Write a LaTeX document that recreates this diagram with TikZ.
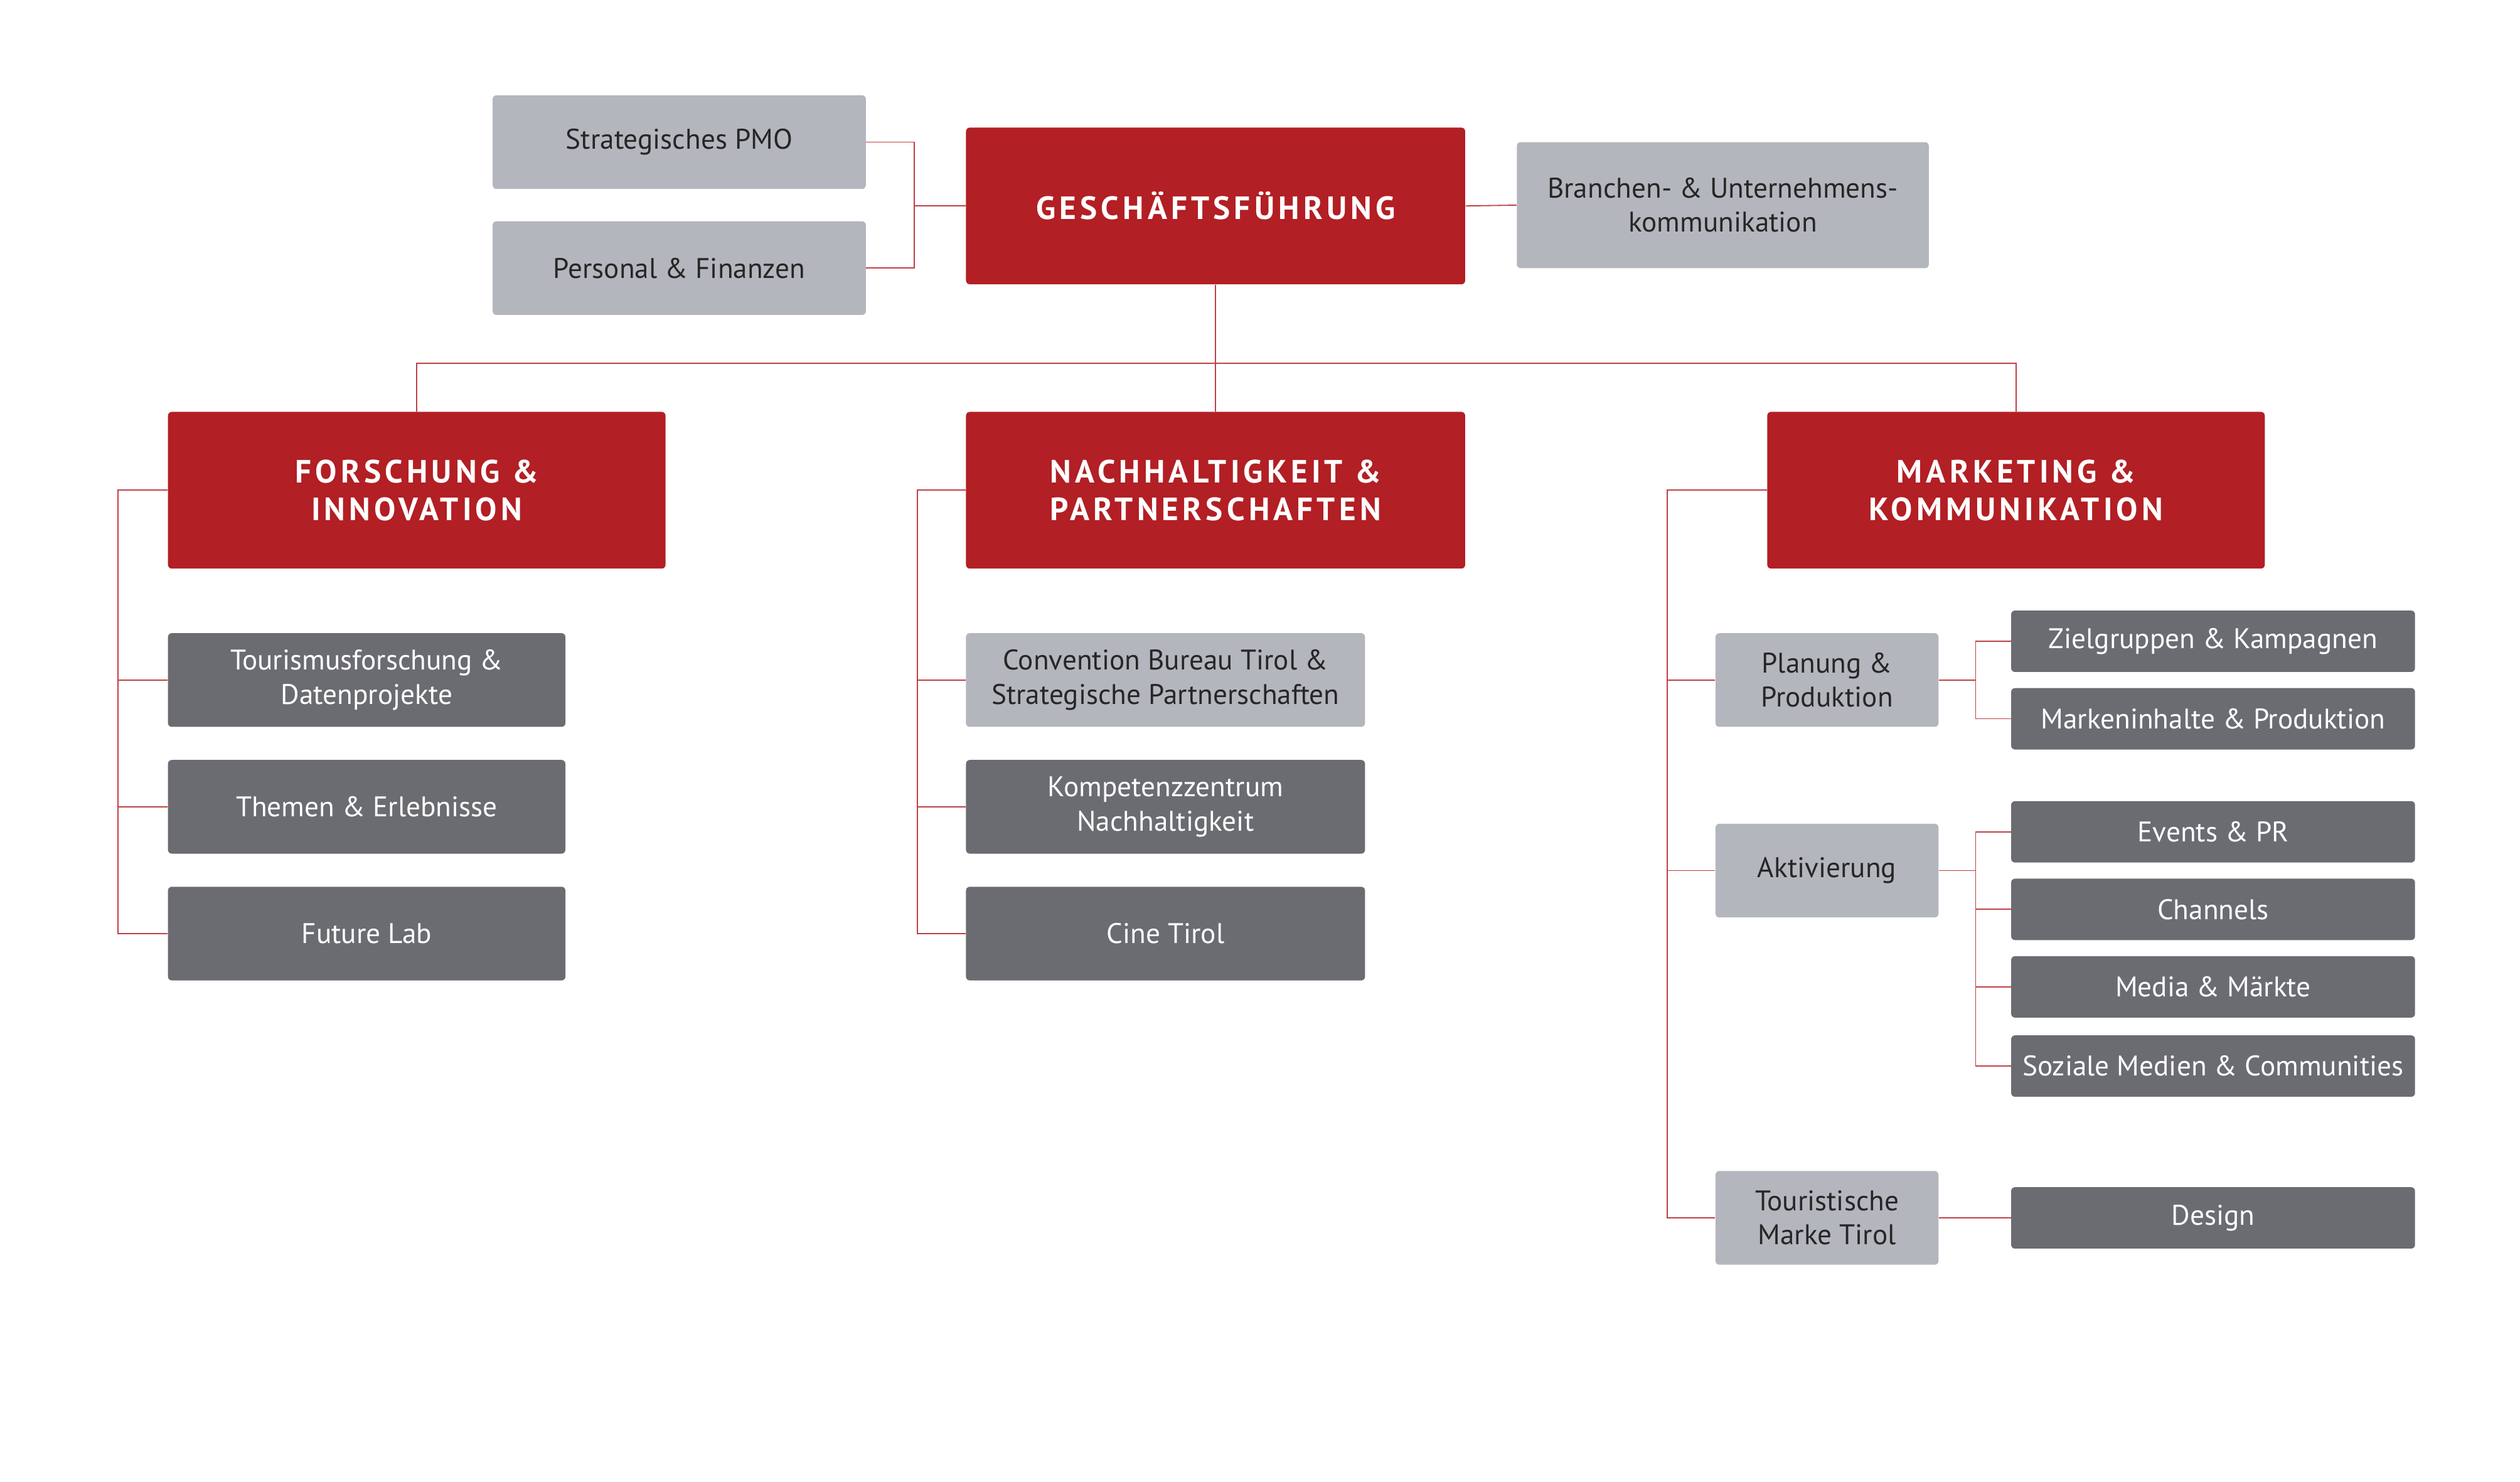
\documentclass[tikz,border=0pt]{standalone}
\usepackage{fontspec}
\setmainfont{PT Sans}
\definecolor{rd}{HTML}{B21F24}
\definecolor{lg}{HTML}{B4B6BD}
\definecolor{dg}{HTML}{6B6C71}
\begin{document}
\begin{tikzpicture}[x=0.03cm,y=-0.03cm,
 box/.style={rounded corners=2pt,inner sep=0pt,font=\fontsize{15}{18}\selectfont,align=center},
 light/.style={box,fill=lg,text=black!85},
 dark/.style={box,fill=dg,text=white},
 head/.style={box,fill=rd,text=white,font=\fontsize{17}{20}\selectfont\bfseries\addfontfeature{LetterSpace=12}},
 ln/.style={draw=rd!85,line width=0.6pt}]
\useasboundingbox (0,0) rectangle (1560,917.5);
\newcommand\bx[6]{\node[#1,minimum width=#4*0.03cm-#2*0.03cm,minimum height=#6*0.03cm-#5*0.03cm] (#3) at ({(#2+#4)/2},{(#5+#6)/2}) {};}
% nodes with text
\node[light,minimum width=231*0.03cm,minimum height=58*0.03cm] (pmo) at (420.5,88) {Strategisches PMO};
\node[light,minimum width=231*0.03cm,minimum height=58*0.03cm] (pf) at (420.5,166) {Personal \& Finanzen};
\node[head,minimum width=309*0.03cm,minimum height=97*0.03cm] (gf) at (752.5,127.5) {GESCHÄFTSFÜHRUNG};
\node[light,minimum width=255*0.03cm,minimum height=78*0.03cm] (bu) at (1066.5,127) {Branchen- \& Unternehmens-\\kommunikation};
\node[head,minimum width=308*0.03cm,minimum height=97*0.03cm] (fi) at (258,303.5) {FORSCHUNG \&\\INNOVATION};
\node[head,minimum width=309*0.03cm,minimum height=97*0.03cm] (np) at (752.5,303.5) {NACHHALTIGKEIT \&\\PARTNERSCHAFTEN};
\node[head,minimum width=308*0.03cm,minimum height=97*0.03cm] (mk) at (1248,303.5) {MARKETING \&\\KOMMUNIKATION};
\foreach \n/\t/\y in {f1/{Tourismusforschung \&\\Datenprojekte}/421, f2/{Themen \& Erlebnisse}/499.5, f3/{Future Lab}/578}
 \node[dark,minimum width=246*0.03cm,minimum height=58*0.03cm] (\n) at (227,\y) {\t};
\node[light,minimum width=247*0.03cm,minimum height=58*0.03cm] (n1) at (721.5,421) {Convention Bureau Tirol \&\\Strategische Partnerschaften};
\node[dark,minimum width=247*0.03cm,minimum height=58*0.03cm] (n2) at (721.5,499.5) {Kompetenzzentrum\\Nachhaltigkeit};
\node[dark,minimum width=247*0.03cm,minimum height=58*0.03cm] (n3) at (721.5,578) {Cine Tirol};
\node[light,minimum width=138*0.03cm,minimum height=58*0.03cm] (m1) at (1131,421) {Planung \&\\Produktion};
\node[light,minimum width=138*0.03cm,minimum height=58*0.03cm] (m2) at (1131,539) {Aktivierung};
\node[light,minimum width=138*0.03cm,minimum height=58*0.03cm] (m3) at (1131,754) {Touristische\\Marke Tirol};
\foreach \n/\t/\y in {r1/{Zielgruppen \& Kampagnen}/397, r2/{Markeninhalte \& Produktion}/445, r3/{Events \& PR}/515, r4/{Channels}/563, r5/{Media \& Märkte}/611, r6/{Soziale Medien \& Communities}/660, r7/{Design}/754}
 \node[dark,minimum width=250*0.03cm,minimum height=38*0.03cm] (\n) at (1370,\y) {\t};
% connectors
\draw[ln] (pmo.east) -| (566,166) -- (pf.east);
\draw[ln] (gf.west) -- (566,127.5);
\draw[ln] (gf.east) -- (bu.west);
\draw[ln] (gf.south) -- (np.north);
\draw[ln] (fi.north) |- (752.5,225) -| (mk.north);
\draw[ln] (fi.west) -| (73,578) -- (f3.west);
\draw[ln] (73,421) -- (f1.west); \draw[ln] (73,499.5) -- (f2.west);
\draw[ln] (np.west) -| (568,578) -- (n3.west);
\draw[ln] (568,421) -- (n1.west); \draw[ln] (568,499.5) -- (n2.west);
\draw[ln] (mk.west) -| (1032,754) -- (m3.west);
\draw[ln] (1032,421) -- (m1.west); \draw[ln] (1032,539) -- (m2.west);
\draw[ln] (r1.west) -| (1223,445) -- (r2.west);
\draw[ln] (m1.east) -- (1223,421);
\draw[ln] (r3.west) -| (1223,660) -- (r6.west);
\draw[ln] (1223,563) -- (r4.west); \draw[ln] (1223,611) -- (r5.west);
\draw[ln] (m2.east) -- (1223,539);
\draw[ln] (m3.east) -- (r7.west);
\end{tikzpicture}
\end{document}
